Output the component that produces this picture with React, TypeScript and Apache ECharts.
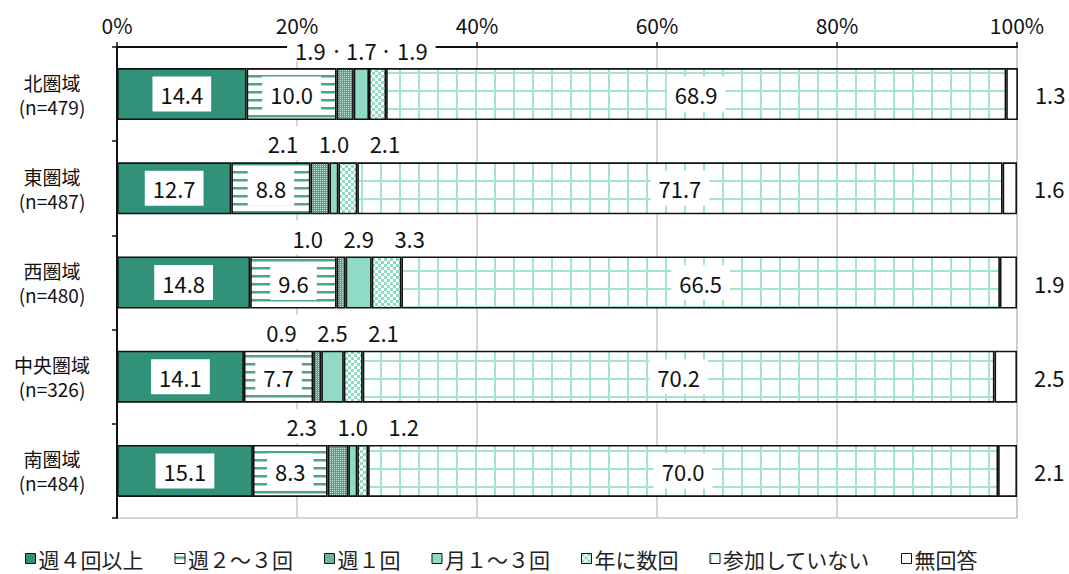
import React, { useEffect, useRef } from "react";
import * as echarts from "echarts";

const categories = ["北圏域\n(n=479)", "東圏域\n(n=487)", "西圏域\n(n=480)", "中央圏域\n(n=326)", "南圏域\n(n=484)"];
const seriesNames = ["週４回以上", "週２～３回", "週１回", "月１～３回", "年に数回", "参加していない", "無回答"];
const weekly4 = [14.4, 12.7, 14.8, 14.1, 15.1];
const weekly2to3 = [10.0, 8.8, 9.6, 7.7, 8.3];
const weekly1 = [1.9, 2.1, 1.0, 0.9, 2.3];
const monthly1to3 = [1.7, 1.0, 2.9, 2.5, 1.0];
const fewPerYear = [1.9, 2.1, 3.3, 2.1, 1.2];
const notParticipating = [68.9, 71.7, 66.5, 70.2, 70.0];
const noAnswer = [1.3, 1.6, 1.9, 2.5, 2.1];
const xTicks = [0, 20, 40, 60, 80, 100];

const NUM_FONT = "'Liberation Sans Narrow', 'Noto Sans CJK JP', sans-serif";
const JP_FONT = "'Noto Sans CJK JP', sans-serif";

const GRID_LEFT = 117;
const GRID_W = 900;
const PX = GRID_W / 100;
const SPREAD = 51;
const LIFT = -45;

function makePattern(w: number, h: number, draw: (ctx: CanvasRenderingContext2D) => void) {
  const c = document.createElement("canvas");
  c.width = w;
  c.height = h;
  const ctx = c.getContext("2d") as CanvasRenderingContext2D;
  draw(ctx);
  return { image: c.toDataURL(), repeat: "repeat", imageWidth: w, imageHeight: h } as any;
}

export default function App() {
  const ref = useRef<HTMLDivElement>(null);
  useEffect(() => {
    if (!ref.current) return;
    const chart = echarts.init(ref.current, null, { renderer: "svg" });

    const dark = "#329179";
    const light = "#90dbc5";
    const stripes = makePattern(8, 8, (ctx) => {
      ctx.fillStyle = "#fff";
      ctx.fillRect(0, 0, 8, 8);
      ctx.fillStyle = "#4ba588";
      ctx.fillRect(0, 3, 8, 2.5);
    });
    const dots = makePattern(4, 4, (ctx) => {
      ctx.fillStyle = "#4aa689";
      ctx.fillRect(0, 0, 4, 4);
      ctx.fillStyle = "#c4ece0";
      ctx.fillRect(0, 0, 1, 1);
      ctx.fillRect(2, 2, 1, 1);
      ctx.fillRect(2, 0, 1, 1);
      ctx.fillRect(0, 2, 1, 1);
    });
    const checker = makePattern(6, 6, (ctx) => {
      ctx.fillStyle = "#fff";
      ctx.fillRect(0, 0, 6, 6);
      ctx.fillStyle = light;
      ctx.fillRect(0, 0, 3, 3);
      ctx.fillRect(3, 3, 3, 3);
    });
    const gridPat = makePattern(19, 18, (ctx) => {
      ctx.fillStyle = "#fff";
      ctx.fillRect(0, 0, 19, 18);
      ctx.fillStyle = "#a3e3cf";
      ctx.fillRect(0, 0, 2, 18);
      ctx.fillRect(0, 0, 19, 2);
    });

    const fills = [dark, stripes, dots, light, checker, gridPat, "#fff"];
    const dataSets = [weekly4, weekly2to3, weekly1, monthly1to3, fewPerYear, notParticipating, noAnswer];

    const fmt = (v: number) => v.toFixed(1);

    const insideLabel = {
      show: true,
      position: "inside",
      backgroundColor: "#fff",
      padding: [7, 8, 6, 8],
      color: "#111",
      fontFamily: NUM_FONT,
      fontSize: 22,
      formatter: (p: any) => fmt(p.value),
    };

    const topLabelBase = {
      show: true,
      position: "inside",
      backgroundColor: "#fff",
      color: "#111",
      fontFamily: NUM_FONT,
      fontSize: 22,
    };

    const buildData = (idx: number) => {
      const vals = dataSets[idx];
      return vals.map((v, row) => {
        if (idx === 2 || idx === 3 || idx === 4) {
          const w1 = weekly1[row];
          const m = monthly1to3[row];
          const y = fewPerYear[row];
          let dx = 0;
          if (idx === 2) dx = ((w1 + m) / 2) * PX - SPREAD;
          if (idx === 4) dx = -((m + y) / 2) * PX + SPREAD;
          const label: any = {
            ...topLabelBase,
            offset: [dx, row === 0 ? LIFT + 1 : LIFT],
            padding: row === 0 ? [0, 8] : [6, 8],
          };
          if (idx === 3 && row === 0) {
            label.formatter = () => "{s|・}{v|" + fmt(v) + "}{s|・}";
            label.padding = [0, 0];
            label.rich = {
              s: { width: 19, align: "center", fontFamily: JP_FONT, fontSize: 14, color: "#111" },
              v: { fontFamily: NUM_FONT, fontSize: 22, color: "#111" },
            };
          } else {
            label.formatter = () => fmt(v);
          }
          return { value: v, label };
        }
        return v;
      });
    };

    const series = seriesNames.map((name, idx) => {
      let label: any = { show: false };
      if (idx === 0 || idx === 1 || idx === 5) label = insideLabel;
      if (idx === 6)
        label = {
          show: true,
          position: "right",
          distance: 17,
          color: "#111",
          fontFamily: NUM_FONT,
          fontSize: 22,
          formatter: (p: any) => fmt(p.value),
        };
      return {
        name,
        type: "bar",
        stack: "total",
        barWidth: 52,
        clip: false,
        itemStyle: { color: fills[idx], borderColor: "#111", borderWidth: 1.6 },
        label,
        emphasis: { disabled: true },
        data: buildData(idx),
      };
    });

    chart.setOption({
      animation: false,
      grid: {
        left: GRID_LEFT,
        width: GRID_W,
        top: 47,
        bottom: 56,
        show: true,
        borderColor: "#c8c8c8",
        borderWidth: 1.5,
      },
      legend: {
        data: seriesNames,
        top: 543,
        left: 20,
        itemWidth: 10,
        itemHeight: 10,
        itemGap: 31,
        icon: "rect",
        itemStyle: { borderColor: "#111", borderWidth: 1 },
        textStyle: { fontFamily: JP_FONT, fontSize: 21, color: "#222", padding: [0, 0, 0, -2] },
      },
      xAxis: {
        type: "value",
        position: "top",
        min: xTicks[0],
        max: xTicks[xTicks.length - 1],
        interval: 20,
        axisLine: { show: true, lineStyle: { color: "#111", width: 2 } },
        axisTick: { show: true, length: 5, lineStyle: { color: "#111", width: 1.5 } },
        axisLabel: { formatter: "{value}%", fontFamily: NUM_FONT, fontSize: 21, color: "#111", margin: 12 },
        splitLine: { show: true, lineStyle: { color: "#c8c8c8", width: 1.5 } },
      },
      yAxis: {
        type: "category",
        data: categories,
        inverse: true,
        axisLine: { show: true, lineStyle: { color: "#111", width: 2 } },
        axisTick: { show: true, length: 5, lineStyle: { color: "#111", width: 1.5 } },
        axisLabel: {
          fontFamily: JP_FONT,
          fontSize: 19,
          color: "#111",
          align: "center",
          margin: 65,
          lineHeight: 24,
        },
      },
      series,
    } as any);

    return () => chart.dispose();
  }, []);

  return (
    <div
      ref={ref}
      style={{ position: "fixed", left: 0, top: 0, width: 1069, height: 574, background: "#fff" }}
    />
  );
}
